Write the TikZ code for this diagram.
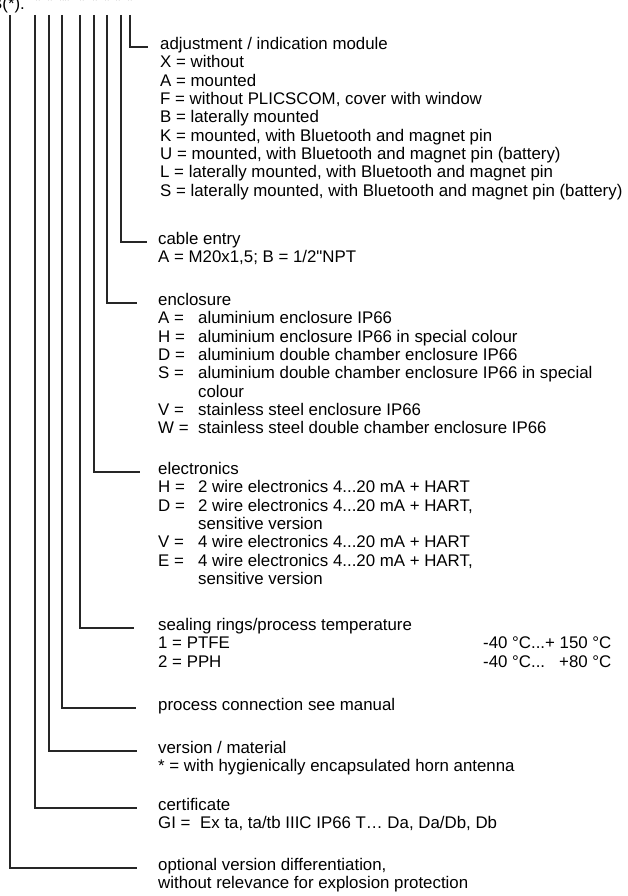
\documentclass[tikz,border=0pt]{standalone}
\usepackage{fontspec}
\setmainfont{Liberation Sans}[Ligatures=TeXOff]
\usetikzlibrary{positioning}
\newcommand{\lbl}[1]{\makebox[40pt][l]{#1}}

\begin{document}
\begin{tikzpicture}[
  x=1pt, y=-1pt,
  every node/.style={inner sep=0pt, font=\fontsize{16.85}{18.3}\selectfont},
  head/.style={anchor=mid west},
  body/.style={align=left, anchor=base west},
  lead/.style={line width=1.1pt, black!85}
]
\useasboundingbox (0,0) rectangle (627,896);
\node[anchor=base west] (code) at (-9,10) {B(*).};
\foreach \n/\x in {1/38,2/50,3/62,4/67,5/82,6/95,7/107,8/118,9/130}
  \node[anchor=base] (s\n) at (\x,7) {*};
\foreach \n/\x in {1/10,2/35,3/49,4/62,5/80,6/94,7/107,8/121,9/130}
  \coordinate (t\n) at (\x,15);

% blocks: heading on the leader line, body below (base = last line)
\node[head] (adj) at (160,47) {adjustment / indication module};
\node[body] (adjb) at ([yshift=-146.4pt]adj.base west) {X = without\\A = mounted\\F = without PLICSCOM, cover with window\\B = laterally mounted\\K = mounted, with Bluetooth and magnet pin\\U = mounted, with Bluetooth and magnet pin (battery)\\L = laterally mounted, with Bluetooth and magnet pin\\S = laterally mounted, with Bluetooth and magnet pin (battery)};
\node[head] (cable) at (158,242) {cable entry};
\node[body] (cableb) at ([yshift=-18.3pt]cable.base west) {A = M20x1,5; B = 1/2"NPT};
\node[head] (encl) at (158,303) {enclosure};
\node[body] (enclb) at ([yshift=-128.1pt]encl.base west) {\lbl{A =}aluminium enclosure IP66\\\lbl{H =}aluminium enclosure IP66 in special colour\\\lbl{D =}aluminium double chamber enclosure IP66\\\lbl{S =}aluminium double chamber enclosure IP66 in special\\\lbl{}colour\\\lbl{V =}stainless steel enclosure IP66\\\lbl{W =}stainless steel double chamber enclosure IP66};
\node[head] (elec) at (158,472) {electronics};
\node[body] (elecb) at ([yshift=-109.8pt]elec.base west) {\lbl{H =}2 wire electronics 4...20 mA + HART\\\lbl{D =}2 wire electronics 4...20 mA + HART,\\\lbl{}sensitive version\\\lbl{V =}4 wire electronics 4...20 mA + HART\\\lbl{E =}4 wire electronics 4...20 mA + HART,\\\lbl{}sensitive version};
\node[head] (seal) at (158,628) {sealing rings/process temperature};
\node[body] (sealb) at ([yshift=-36.6pt]seal.base west) {\makebox[325pt][l]{1 = PTFE}-40 °C...+ 150 °C\\\makebox[325pt][l]{2 = PPH}-40 °C...\ \phantom{0}+80 °C};
\node[head] (proc) at (158,708) {process connection see manual};
\node[head] (vers) at (158,751) {version / material};
\node[body] (versb) at ([yshift=-18.3pt]vers.base west) {* = with hygienically encapsulated horn antenna};
\node[head] (cert) at (158,808) {certificate};
\node[body] (certb) at ([yshift=-18.3pt]cert.base west) {\makebox[42pt][l]{GI =}Ex ta, ta/tb IIIC IP66 T… Da, Da/Db, Db};
\node[head] (opt) at (158,868) {optional version differentiation,};
\node[body] (optb) at ([yshift=-18.3pt]opt.base west) {without relevance for explosion protection};

\draw[lead] (t9) |- ([xshift=-12pt]adj.mid west);
\draw[lead] (t8) |- ([xshift=-11pt]cable.mid west);
\draw[lead] (t7) |- ([xshift=-21pt]encl.mid west);
\draw[lead] (t6) |- ([xshift=-18pt]elec.mid west);
\draw[lead] (t5) |- ([xshift=-24pt]seal.mid west);
\draw[lead] (t4) |- ([xshift=-22pt]proc.mid west);
\draw[lead] (t3) |- ([xshift=-21pt]vers.mid west);
\draw[lead] (t2) |- ([xshift=-21pt]cert.mid west);
\draw[lead] (t1) |- ([xshift=-21pt]opt.mid west);
\end{tikzpicture}
\end{document}
